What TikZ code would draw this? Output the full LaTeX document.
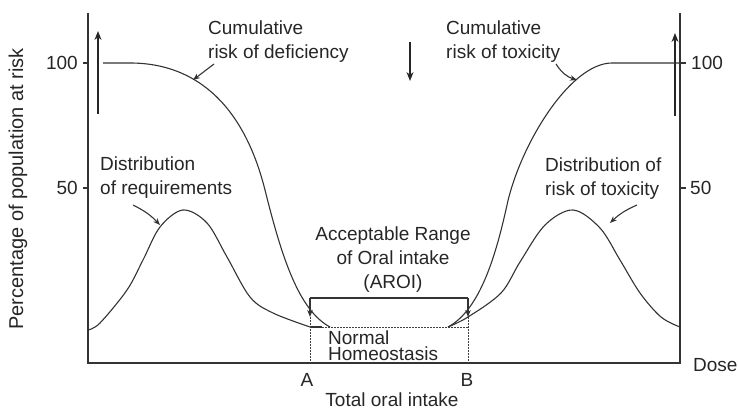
\documentclass[tikz,border=0pt]{standalone}
\usepackage{fontspec}
\setmainfont{Liberation Sans}
\usetikzlibrary{arrows.meta}
\begin{document}
\begin{tikzpicture}[x=1pt,y=-1pt,
  ln/.style={line width=1.1pt, draw=black!80},
  ax/.style={line width=1.7pt, draw=black!80},
  dotln/.style={line width=0.9pt, draw=black!75, dash pattern=on 1.5pt off 1.5pt},
  lbl/.style={font=\fontsize{19}{24}\selectfont, text=black!85, inner sep=0pt, align=left},
  arr/.style={ln, -{Stealth[length=7pt,width=5.5pt]}},
  bigarr/.style={line width=1.3pt, draw=black!85, -{Stealth[length=9pt,width=7pt]}},
]
\useasboundingbox (0,0) rectangle (738,412);

% axes
\draw[ax] (88,13) -- (88,363) -- (680,363) -- (680,13);
\draw[ax] (83,63) -- (88,63);
\draw[ax] (83,188) -- (88,188);
\draw[ax] (680,63) -- (686,63);
\draw[ax] (680,188) -- (686,188);

% axis labels
\node[lbl, anchor=east] (l100) at (78,63) {100};
\node[lbl, anchor=east] (l50) at (78,188) {50};
\node[lbl, anchor=west] (r100) at (691,63) {100};
\node[lbl, anchor=west] (r50) at (690,188) {50};
\node[lbl, anchor=west] (dose) at (693,365) {Dose};
\node[lbl] (lA) at (307,380) {A};
\node[lbl] (lB) at (467,380) {B};
\node[lbl] (total) at (392,400) {Total oral intake};
\node[lbl, rotate=90, font=\fontsize{20}{24}\selectfont] (ylab) at (18,189) {Percentage of population at risk};

% vertical arrows
\coordinate (la0) at (98,114); \coordinate (la1) at (98,31);
\draw[bigarr] (la0) -- (la1);
\coordinate (ra0) at (675,116); \coordinate (ra1) at (675,33);
\draw[bigarr] (ra0) -- (ra1);
\coordinate (da0) at (410,42); \coordinate (da1) at (410,81);
\draw[bigarr] (da0) -- (da1);

% cumulative risk of deficiency
\draw[ln] (103,63) -- (130,63)
  .. controls (200,63) and (245,110) .. (265,190)
  .. controls (281,254) and (298,310) .. (330,327);
% distribution of requirements
\draw[ln] plot[smooth, tension=0.55] coordinates {(88,330) (100,323) (127,290) (143,260) (160,227) (183,210) (207,223) (227,257) (250,297) (273,313) (310,327)};
\draw[ln] (310,327) -- (322,327);

% cumulative risk of toxicity
\draw[ln] (448,327) .. controls (480,310) and (496,255) .. (507,205)
  .. controls (520,145) and (570,63) .. (612,63) -- (680,63);
% distribution of toxicity
\draw[ln] plot[smooth, tension=0.55] coordinates {(448,327) (468,317) (501,293) (520,262) (545,225) (573,210) (600,228) (620,260) (640,293) (661,317) (680,327)};

% AROI box
\coordinate (bl) at (310,317); \coordinate (br) at (468,317);
\draw[ln] (310,298) -- (468,298);
\draw[arr] (310,298) -- (bl);
\draw[arr] (468,298) -- (br);
% normal homeostasis dotted box
\draw[dotln] (322,327) -- (468,327);
\draw[dotln] (bl) -- (310,363);
\draw[dotln] (br) -- (468,363);

% labels
\node[lbl, anchor=north west] (cdef) at (208,21) {Cumulative\\risk of deficiency};
\node[lbl, anchor=north west] (ctox) at (446,21) {Cumulative\\risk of toxicity};
\node[lbl, anchor=north west] (dreq) at (100,157) {Distribution\\of requirements};
\node[lbl, anchor=north west] (dtox) at (545,158) {Distribution of\\risk of toxicity};
\node[lbl, anchor=north, align=center] (aroi) at (393,227) {Acceptable Range\\of Oral intake\\(AROI)};
\node[lbl, anchor=north west, font=\fontsize{19}{15.5}\selectfont] (homeo) at (328,331) {Normal\\Homeostasis};

% label arrows
\coordinate (cdefP) at (193,80);
\draw[arr] (214,64) -- (cdefP);
\coordinate (ctoxP) at (577,80);
\draw[arr] (556,64) to[bend right=20] (ctoxP);
\coordinate (dreqP) at (160,225);
\draw[arr] (133,205) to[bend left=10] (dreqP);
\coordinate (dtoxP) at (610,223);
\draw[arr] (637,205) to[bend right=10] (dtoxP);
\end{tikzpicture}
\end{document}
